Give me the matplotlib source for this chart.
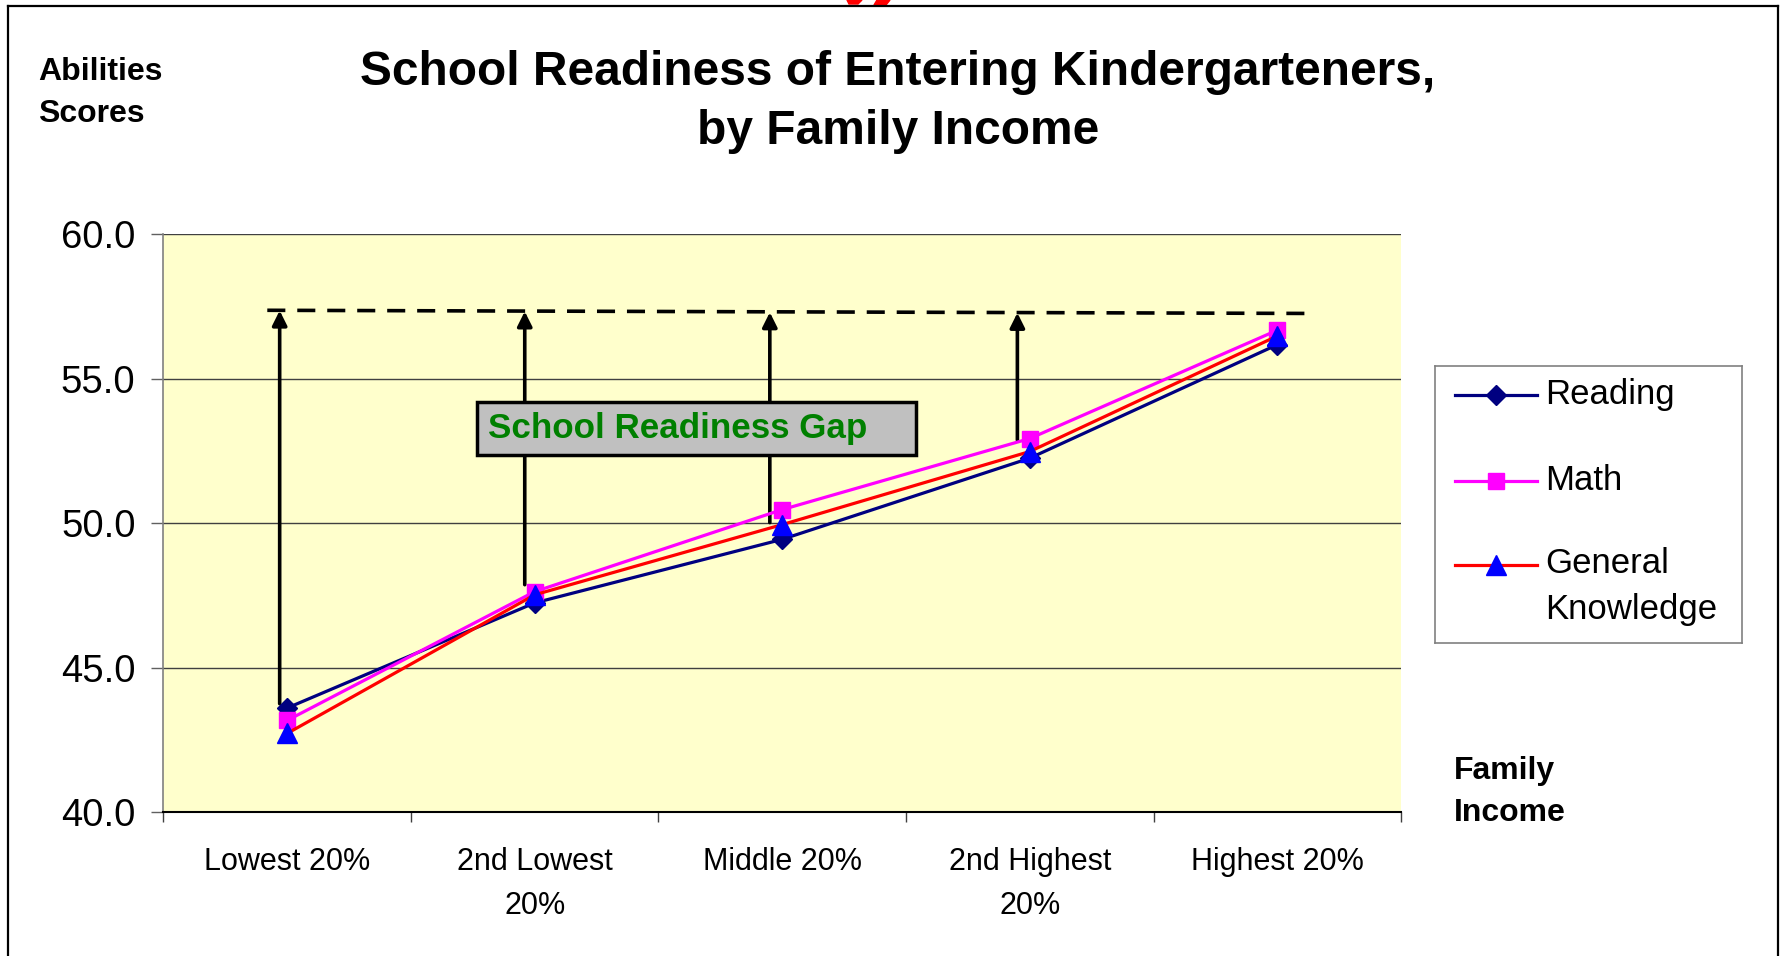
import matplotlib
matplotlib.use("Agg")
import matplotlib.pyplot as plt
from matplotlib.lines import Line2D
from matplotlib.patches import Rectangle, Polygon
from matplotlib.ticker import FormatStrFormatter

plt.rcParams["font.family"] = ["Liberation Sans", "DejaVu Sans"]

########  data  ########

categories = ["Lowest 20%", "2nd Lowest\n20%", "Middle 20%", "2nd Highest\n20%", "Highest 20%"]
reading = [43.6, 47.24, 49.44, 52.25, 56.18]
math = [43.17, 47.63, 50.47, 52.93, 56.68]
general = [42.72, 47.52, 49.95, 52.48, 56.48]

# gap arrows: x offset slightly left of each category, from line up to the dashed level
gap_x = [-0.03, 0.96, 1.95, 2.95]
gap_bottom = [43.75, 47.87, 50.02, 52.88]
gap_top = [57.36, 57.33, 57.3, 57.28]
dash_x = [-0.08, 4.15]
dash_y = [57.37, 57.26]

yticks = [40, 45, 50, 55, 60]

########  figure  ########

fig = plt.figure(figsize=(17.83, 9.56), dpi=100)
ax = fig.add_axes([0.0916, 0.1506, 0.6942, 0.6043])
ax.set_facecolor("#FFFFCC")

x = list(range(len(categories)))

ax.yaxis.grid(True, color="#404040", lw=1.0)
ax.set_axisbelow(True)

# gap arrows + dashed line
ax.plot(dash_x, dash_y, color="black", lw=2.6, dashes=(5, 3.3), zorder=2)
for i in range(len(gap_x)):
    ax.annotate("", xy=(gap_x[i], gap_top[i]), xytext=(gap_x[i], gap_bottom[i]),
                arrowprops=dict(arrowstyle="-|>", lw=2.6, color="black",
                                mutation_scale=22, shrinkA=0, shrinkB=0),
                zorder=2)

# gap label box
ax.add_patch(Rectangle((0.767, 52.36), 1.774, 1.85, facecolor="#C0C0C0",
                       edgecolor="black", lw=2.5, zorder=3))
ax.text(0.81, 53.28, "School Readiness Gap", color="#008000", fontsize=25.2,
        fontweight="bold", ha="left", va="center", zorder=4)

ax.plot(x, reading, color="#000080", lw=2.3, marker="D", ms=10,
        markerfacecolor="#000080", markeredgecolor="#000080", zorder=5)
ax.plot(x, math, color="#FF00FF", lw=2.3, marker="s", ms=12,
        markerfacecolor="#FF00FF", markeredgecolor="#FF00FF", zorder=6)
ax.plot(x, general, color="#FF0000", lw=2.3, marker="^", ms=14,
        markerfacecolor="#0000FF", markeredgecolor="#0000FF", zorder=7)

ax.set_xlim(-0.5, 4.5)
ax.set_ylim(40, 60)
ax.set_yticks(yticks)
ax.yaxis.set_major_formatter(FormatStrFormatter("%.1f"))
ax.set_xticks(x)
ax.set_xticklabels(categories, fontsize=22, linespacing=1.6)
ax.set_xticks([i - 0.5 for i in range(len(categories) + 1)], minor=True)
ax.tick_params(axis="x", which="major", length=0, pad=25)
ax.tick_params(axis="x", which="minor", length=7, width=1, color="#404040", direction="out")
ax.tick_params(axis="y", length=9, width=1, color="#606060", direction="out",
               labelsize=27.5, pad=11)

for s in ["top", "right"]:
    ax.spines[s].set_visible(False)
ax.spines["left"].set_color("#808080")
ax.spines["left"].set_linewidth(1.2)
ax.spines["bottom"].set_color("black")
ax.spines["bottom"].set_linewidth(1.5)

########  texts  ########

fig.text(0.5036, 0.893, "School Readiness of Entering Kindergarteners,\nby Family Income",
         ha="center", va="center", fontsize=34.5, fontweight="bold", linespacing=1.4)
fig.text(0.0215, 0.9028, "Abilities\nScores", ha="left", va="center",
         fontsize=23, fontweight="bold", linespacing=1.55)
fig.text(0.8155, 0.1717, "Family\nIncome", ha="left", va="center",
         fontsize=23, fontweight="bold", linespacing=1.55)

########  legend (drawn by hand so the handle sits on the first line)  ########

lax = fig.add_axes([0.8048, 0.3277, 0.1722, 0.2897])
lax.set_xlim(0, 307)
lax.set_ylim(277, 0)
lax.set_xticks([])
lax.set_yticks([])
for s in lax.spines.values():
    s.set_color("#808080")
    s.set_linewidth(1.2)

leg_rows = [("Reading", "#000080", "D", "#000080", 10, 29),
            ("Math", "#FF00FF", "s", "#FF00FF", 12, 115),
            ("General\nKnowledge", "#FF0000", "^", "#0000FF", 14, 199)]
for label, lc, mk, mc, ms, yy in leg_rows:
    lax.add_line(Line2D([20, 61, 102], [yy, yy, yy], color=lc, lw=2.3, marker=mk,
                        ms=ms, markevery=[1], markerfacecolor=mc, markeredgecolor=mc))
    lax.text(110, yy, label, fontsize=25, ha="left", va="top" if "\n" in label else "center",
             linespacing=1.5, transform=lax.transData)
# shift multi-line label so its first line is centred on the handle
lax.texts[-1].set_y(199 - 18)

########  page frame  ########

fig.add_artist(Line2D([8 / 1783, 1778 / 1783], [1 - 5.7 / 956] * 2, color="black", lw=1.6))
fig.add_artist(Line2D([8 / 1783] * 2, [0, 1 - 5.7 / 956], color="black", lw=1.6))
fig.add_artist(Line2D([1778 / 1783] * 2, [0, 1 - 5.7 / 956], color="black", lw=1.6))
fig.add_artist(Polygon([(847 / 1783, 1), (862 / 1783, 1), (858 / 1783, 1 - 4 / 956),
                        (849 / 1783, 1 - 4 / 956)], closed=True, color="red"))
fig.add_artist(Polygon([(877 / 1783, 1), (890 / 1783, 1), (886 / 1783, 1 - 5 / 956),
                        (874 / 1783, 1 - 5 / 956)], closed=True, color="red"))

fig.savefig("out.png", dpi=100, facecolor="white")
